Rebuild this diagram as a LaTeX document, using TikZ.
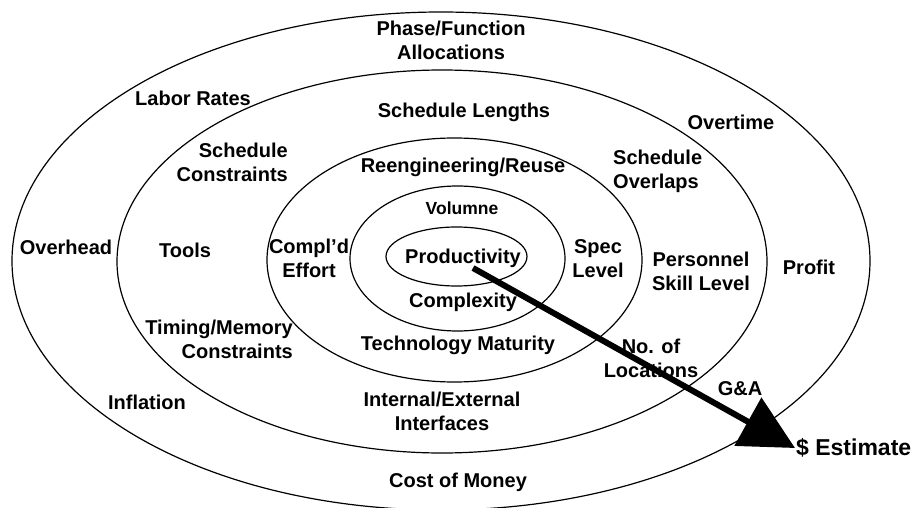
\documentclass[tikz,border=0pt]{standalone}
\usepackage{fontspec}
\setmainfont{Liberation Sans}
\usepackage{tikz}
\usetikzlibrary{arrows.meta}
\tikzstyle{ring}=[draw,line width=1.2pt]
\tikzstyle{factor}=[font=\bfseries\fontsize{20}{24}\selectfont,align=center,inner sep=0pt]

\begin{document}
\begin{tikzpicture}[x=1pt,y=-1pt]
\tikzstyle{small}=[factor,font=\bfseries\fontsize{17.5}{20}\selectfont]
\tikzstyle{big}=[factor,font=\bfseries\fontsize{23}{26}\selectfont]
\tikzstyle{every path}=[line join=miter]
\useasboundingbox (0,0) rectangle (919,508);
% rings, outside in
\draw[ring] (441,261) ellipse [x radius=429,y radius=249];
\draw[ring] (442,261.5) ellipse [x radius=325,y radius=191.5];
\draw[ring] (454.5,260) ellipse [x radius=187.5,y radius=122];
\draw[ring] (457.5,258.5) ellipse [x radius=107.5,y radius=72.5];
\draw[ring] (456.5,256.5) ellipse [x radius=70.5,y radius=29.5];

% outer ring
\node (phase) [factor] at (451,40) {Phase/Function\\Allocations};
\node (labor) [factor] at (193,98) {Labor Rates};
\node (overtime) [factor] at (731,122) {Overtime};
\node (overhead) [factor] at (66,247) {Overhead};
\node (profit) [factor] at (809,267) {Profit};
\node (inflation) [factor] at (147,402) {Inflation};
\node (ga) [factor] at (740,389) {G\&A};
\node (money) [factor] at (458,482) {Cost of Money};

% second ring
\node (lengths) [factor] at (464,112) {Schedule Lengths};
\node (constr) [factor,align=right,anchor=east] at (288,162.5) {Schedule\\Constraints};
\node (overlaps) [factor,align=left,anchor=west] at (613,171) {Schedule\\Overlaps};
\node (tools) [factor] at (185,250) {Tools};
\node (skill) [factor] at (701,271.5) {Personnel\\Skill Level};
\node (timing) [factor,align=right,anchor=east] at (293,339.5) {Timing/Memory\\Constraints};
\node (locations) [factor] at (651,358.5) {No. of\\Locations};
\node (interfaces) [factor] at (442,411.5) {Internal/External\\Interfaces};

% third ring
\node (reuse) [factor] at (463,167) {Reengineering/Reuse};
\node (effort) [factor] at (309,258.5) {Compl'd\\Effort};
\node (spec) [factor] at (598,258.5) {Spec\\Level};
\node (techmat) [factor] at (458,345) {Technology Maturity};

% fourth ring
\node (volume) [small] at (462,208) {Volumne};
\node (complexity) [factor] at (463,302) {Complexity};

% core
\node (prod) [factor] at (463,258) {Productivity};
\node (est) [big,anchor=west,inner sep=1pt] at (795,448) {\$ Estimate};

\coordinate (src) at (473,268);
\draw[line width=6pt,-{Triangle[length=54pt,width=54pt]}] (src) -- (est.west);
\end{tikzpicture}
\end{document}
